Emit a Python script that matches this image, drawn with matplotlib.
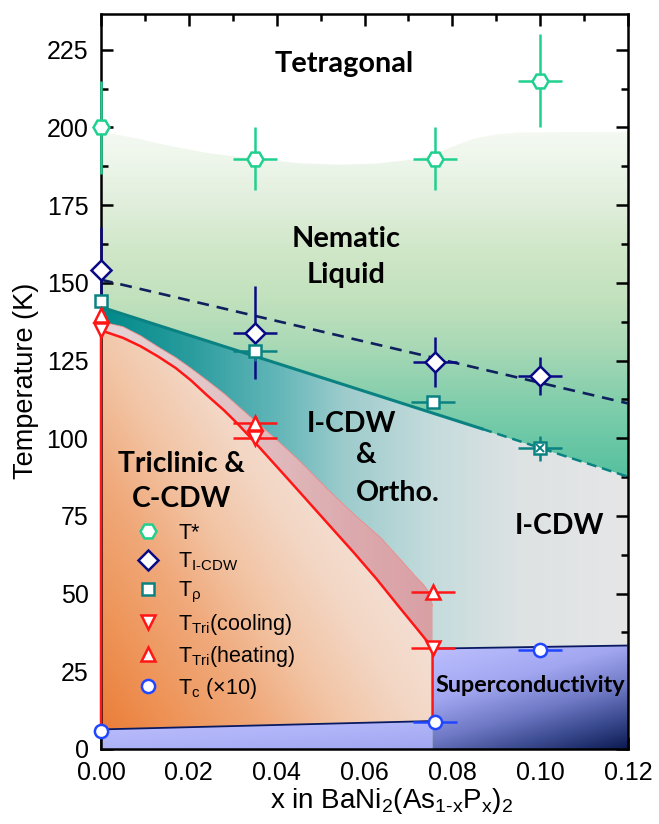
# BaNi2(As1-xPx)2 phase diagram

import numpy as np
import matplotlib
matplotlib.use("Agg")
import matplotlib.pyplot as plt
from matplotlib.patches import Polygon
from matplotlib.colors import LinearSegmentedColormap
from matplotlib.lines import Line2D
from matplotlib.ticker import MultipleLocator, FormatStrFormatter

plt.rcParams["font.family"] = ["Liberation Sans", "DejaVu Sans"]
plt.rcParams["mathtext.fontset"] = "custom"
plt.rcParams["mathtext.rm"] = "Liberation Sans"
plt.rcParams["mathtext.it"] = "Liberation Sans"
plt.rcParams["mathtext.default"] = "regular"

# ---- data ----
x_star = [0.0, 0.035, 0.076, 0.100]
t_star = [200.0, 190.0, 190.0, 215.0]
t_star_err = [15.0, 10.0, 10.0, 15.0]
x_star_err = [0.0, 0.005, 0.005, 0.005]

x_icdw = [0.0, 0.035, 0.076, 0.100]
t_icdw = [154.0, 134.0, 124.6, 120.0]
t_icdw_err = [14.0, 15.0, 8.0, 6.0]
x_icdw_err = [0.0, 0.005, 0.005, 0.005]

x_rho = [0.0, 0.035, 0.0755]
t_rho = [144.0, 128.0, 111.7]
t_rho_err = [0.0, 3.0, 2.0]
x_rho_err = [0.0, 0.005, 0.005]
x_rho_cross = [0.100]
t_rho_cross = [96.7]
t_rho_cross_err = [4.0]
x_rho_cross_err = [0.005]

x_tri = [0.0, 0.035, 0.0755]
t_cool = [134.7, 100.0, 32.5]
t_heat = [139.5, 104.8, 50.5]
x_tri_err = [0.0, 0.005, 0.005]

x_tc = [0.0, 0.076, 0.100]
t_tc = [5.8, 8.8, 31.8]
x_tc_err = [0.0, 0.005, 0.005]

# phase boundaries (hand-read knots)
x_dash = [0.0, 0.12]
t_dash = [151.0, 111.2]
x_teal = [0.0, 0.0868]
t_teal = [142.2, 103.0]
x_teal_d = [0.0868, 0.12]
t_teal_d = [103.0, 87.6]
x_red = [0.0, 0.005, 0.009, 0.013, 0.017, 0.0205, 0.024, 0.028, 0.031, 0.034,
         0.043, 0.0523, 0.0575, 0.0627, 0.068, 0.072, 0.0755]
t_red = [134.7, 132.3, 129.6, 126.3, 122.6, 118.6, 114.0, 109.0, 104.8, 100.3,
         86.2, 71.5, 63.3, 54.8, 45.5, 38.6, 32.5]
x_pink = [0.0, 0.005, 0.009, 0.013, 0.017, 0.0205, 0.024, 0.028, 0.034, 0.040,
          0.045, 0.0523, 0.058, 0.0636, 0.0685, 0.0712, 0.0735, 0.0748, 0.0755]
t_pink = [137.5, 135.9, 133.0, 129.4, 126.0, 122.5, 118.8, 114.4, 106.9, 99.5,
          93.0, 82.6, 75.0, 68.1, 60.5, 56.2, 52.8, 50.2, 46.0]
x_sc_lo = [0.0, 0.0755]
t_sc_lo = [6.3, 9.0]
x_sc_hi = [0.0755, 0.12]
t_sc_hi = [32.3, 33.3]
x_white = [0.0, 0.008, 0.0165, 0.025, 0.035, 0.045, 0.054, 0.063, 0.071, 0.076,
           0.080, 0.085, 0.090, 0.096, 0.12]
t_white = [198.7, 196.5, 193.8, 191.6, 189.9, 188.5, 188.0, 188.4, 189.7, 191.5,
           193.8, 196.4, 197.8, 198.4, 198.6]

XMAX, TMAX = 0.12, 236.5

GREEN = "#1fd08f"
NAVY = "#0a0a85"
TEAL = "#0b8282"
RED = "#ff1616"
BLUE = "#2146ff"

fig = plt.figure(figsize=(6.59, 8.24), dpi=100)
ax = fig.add_axes([101 / 659, 1 - 749 / 824, 527 / 659, 735 / 824])

gx = np.linspace(0, XMAX, 480)
gt = np.linspace(0, TMAX, 900)
GX, GT = np.meshgrid(gx, gt)


def cmap_from(stops):
    return LinearSegmentedColormap.from_list("g", stops)


def shade(verts, cmap, u, z):
    patch = Polygon(verts, closed=True, facecolor="none", edgecolor="none")
    ax.add_patch(patch)
    im = ax.imshow(cmap(np.clip(u, 0, 1)), extent=[0, XMAX, 0, TMAX], origin="lower",
                   aspect="auto", interpolation="bilinear", zorder=z)
    im.set_clip_path(patch)


# nematic liquid (vertical gradient)
green_cm = cmap_from([(0.0, "#55c09e"), (0.115, "#6cc8a6"), (0.25, "#8ad0ae"),
                      (0.38, "#aad9b6"), (0.51, "#c2e1bd"), (0.65, "#d0e7c8"),
                      (0.78, "#e0eedb"), (0.91, "#eef6eb"), (1.0, "#f5faf3")])
verts = list(zip(x_white, t_white)) + [(x_teal_d[-1], t_teal_d[-1]), (x_teal[0], t_teal[0])]
shade(verts, green_cm, (GT - 87) / (200 - 87), 1)

# I-CDW (& ortho) region, horizontal gradient
teal_cm = cmap_from([(0.0, "#008a8a"), (0.02 / 0.12, "#2a9c9e"), (0.04 / 0.12, "#62b6b8"),
                     (0.055 / 0.12, "#9ccbcc"), (0.075 / 0.12, "#c4dbdc"),
                     (0.095 / 0.12, "#dde2e3"), (1.0, "#e6e6e7")])
verts = [(x_teal[0], t_teal[0]), (x_teal_d[-1], t_teal_d[-1]), (XMAX, 0), (0, 0)]
shade(verts, teal_cm, GX / XMAX, 1)

# hysteresis band
pink_cm = cmap_from([(0.0, "#e6d4d6"), (0.4, "#e2c2c4"), (0.75, "#dcaaae"), (1.0, "#d9a0a4")])
verts = list(zip(x_pink, t_pink)) + list(zip(x_red, t_red))[::-1]
shade(verts, pink_cm, GX / 0.0755, 2)
ax.plot(x_pink, t_pink, color="#f08a8a", lw=0.6, zorder=2.1)

# triclinic region
orange_cm = cmap_from([(0.0, "#ea7a34"), (0.15, "#ee9458"), (0.3, "#f0aa7c"),
                       (0.42, "#f2c4a4"), (0.55, "#f3d6c4"), (0.7, "#f4e2d8"), (1.0, "#f4e8e2")])
verts = [(0, t_sc_lo[0])] + list(zip(x_red, t_red)) + [(x_sc_lo[1], t_sc_lo[1])]
shade(verts, orange_cm, GX / 0.0755 * 0.55 + GT / 135 * 0.45, 2)

# superconducting region
sc_cm = cmap_from([(0.0, "#bcc0ff"), (0.35, "#a2a6f0"), (0.6, "#6e78c4"),
                   (0.8, "#3a4a8e"), (1.0, "#0c1a52")])
verts = [(0, 0), (0, t_sc_lo[0]), (x_sc_lo[1], t_sc_lo[1]), (x_sc_lo[1], 0)]
shade(verts, sc_cm, 0.15 * GX / 0.0755 + 0.2 * (1 - GT / 9), 2)
verts = [(x_sc_hi[0], 0), (x_sc_hi[0], t_sc_hi[0]), (x_sc_hi[1], t_sc_hi[1]), (XMAX, 0)]
shade(verts, sc_cm, 0.35 * (GX - 0.0755) / 0.0445 + 0.65 * (1 - GT / 33), 2)

# boundary lines
ax.plot(x_sc_lo, t_sc_lo, color="#0a1a60", lw=1.3, zorder=3)
ax.plot(x_sc_hi, t_sc_hi, color="#0a1a60", lw=1.3, zorder=3)
ax.plot([0] + x_red + [x_red[-1]], [t_sc_lo[0]] + t_red + [t_sc_lo[1]],
        color=RED, lw=1.8, zorder=3, clip_on=False, solid_joinstyle="round")
ax.plot(x_teal, t_teal, color=TEAL, lw=2.2, zorder=3)
ax.plot(x_teal_d, t_teal_d, color=TEAL, lw=1.8, ls=(0, (4, 2.3)), zorder=3)
ax.plot(x_dash, t_dash, color="#10205e", lw=1.9, ls=(0, (4.5, 3)), zorder=3)


def points(x, t, xe, te, marker, color, ms, ecolor=None):
    eb = ax.errorbar(x, t, xerr=xe, yerr=te, fmt="none", ecolor=ecolor or color,
                     elinewidth=1.8, capsize=0, zorder=4)
    for c in eb.lines[2]:
        c.set_clip_on(False)
    ax.plot(x, t, ls="none", marker=marker, ms=ms, mfc="white", mec=color,
            mew=1.8, zorder=5, clip_on=False)


points(x_star, t_star, x_star_err, t_star_err, "H", GREEN, 11.5)
points(x_icdw, t_icdw, x_icdw_err, t_icdw_err, "D", NAVY, 10)
points(x_rho, t_rho, x_rho_err, t_rho_err, "s", TEAL, 8.5)
points(x_rho_cross, t_rho_cross, x_rho_cross_err, t_rho_cross_err, "s", TEAL, 8.5)
ax.plot(x_rho_cross, t_rho_cross, ls="none", marker="x", ms=6, mec=TEAL, mew=1.4, zorder=6)
points(x_tri, t_heat, x_tri_err, None, "^", RED, 10.5)
points(x_tri, t_cool, x_tri_err, None, "v", RED, 10.5)
points(x_tc, t_tc, x_tc_err, None, "o", BLUE, 9.5)

# region labels
lab = dict(family=["Lato", "DejaVu Sans"], fontweight="bold", ha="center", va="baseline", zorder=7)
ax.text(0.0554, 217.9, "Tetragonal", fontsize=20.8, **lab)
ax.text(0.0558, 161.6, "Nematic", fontsize=20.8, **lab)
ax.text(0.0557, 149.8, "Liquid", fontsize=20.8, **lab)
ax.text(0.0571, 102.1, "I-CDW", fontsize=20.5, **lab)
ax.text(0.0603, 91.9, "&", fontsize=20.5, **lab)
ax.text(0.0675, 79.9, "Ortho.", fontsize=20.5, **lab)
ax.text(0.1045, 69.2, "I-CDW", fontsize=20.5, **lab)
ax.text(0.0184, 89.2, "Triclinic &", fontsize=20.3, **lab)
ax.text(0.0184, 77.8, "C-CDW", fontsize=20.3, **lab)
ax.text(0.0977, 18.4, "Superconductivity", fontsize=16.8, **lab)

# legend
mk = dict(ls="none", mfc="white", mew=1.8)
handles = [
    Line2D([], [], marker="H", ms=11.5, mec=GREEN, **mk),
    Line2D([], [], marker="D", ms=10, mec=NAVY, **mk),
    Line2D([], [], marker="s", ms=8.5, mec=TEAL, **mk),
    Line2D([], [], marker="v", ms=10.5, mec=RED, **mk),
    Line2D([], [], marker="^", ms=10.5, mec=RED, **mk),
    Line2D([], [], marker="o", ms=9.5, mec=BLUE, **mk),
]
labels = ["T*", r"T$_{\text{I-CDW}}$", r"T$_{ρ}$", r"T$_{Tri}$(cooling)",
          r"T$_{Tri}$(heating)", r"T$_{c}$ ($\times$10)"]
leg = ax.legend(handles, labels, loc="upper left", bbox_to_anchor=(0.0712, 0.308),
                frameon=False, fontsize=15.5, handlelength=0.9, handletextpad=0.95,
                labelspacing=0.32, borderpad=0, borderaxespad=0)
leg.set_zorder(8)

# axes
ax.set_xlim(0, XMAX)
ax.set_ylim(0, TMAX)
ax.xaxis.set_major_locator(MultipleLocator(0.02))
ax.xaxis.set_minor_locator(MultipleLocator(0.01))
ax.yaxis.set_major_locator(MultipleLocator(25))
ax.yaxis.set_minor_locator(MultipleLocator(12.5))
ax.xaxis.set_major_formatter(FormatStrFormatter("%.2f"))
ax.tick_params(which="both", direction="in", top=True, right=True, width=1.8, labelsize=18, pad=9)
ax.tick_params(which="major", length=8.5)
ax.tick_params(which="minor", length=5)
for s in ax.spines.values():
    s.set_linewidth(1.8)

fig.text(26 / 659, 1 - 381 / 824, "Temperature (K)", rotation=90, fontsize=19.5,
         ha="center", va="center")
fig.text(391.7 / 659, 1 - 808.5 / 824, r"x in BaNi$_2$(As$_{\text{1-x}}$P$_x$)$_2$",
         fontsize=20, ha="center", va="baseline")

fig.savefig("out.png", dpi=100)
